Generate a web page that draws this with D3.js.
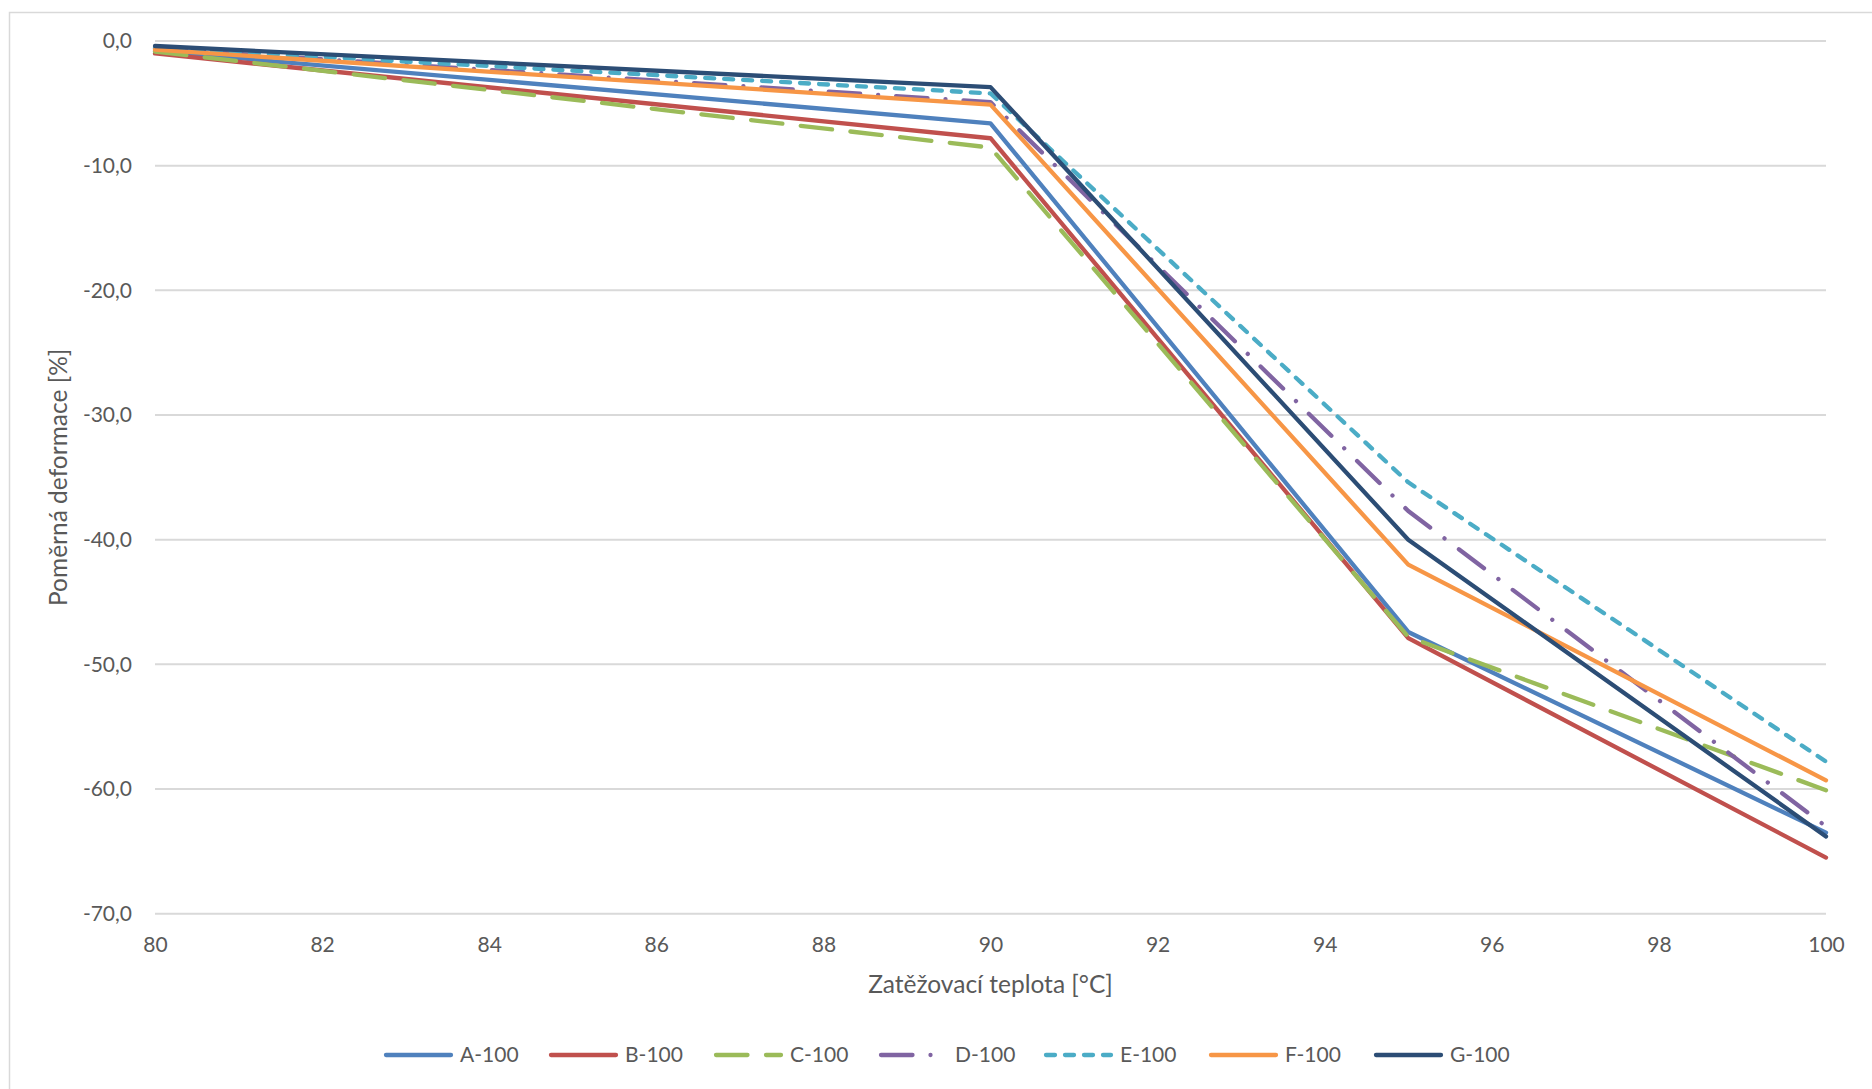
<!DOCTYPE html>
<html>
<head>
<meta charset="utf-8">
<script src="https://cdn.jsdelivr.net/npm/d3@7"></script>
<style>
  html, body { margin: 0; padding: 0; background: #fff; }
  svg { display: block; }
  text { font-family: Lato, "Open Sans", sans-serif; fill: #595959; }
</style>
</head>
<body>
<svg id="chart" width="1872" height="1089"></svg>
<script>
// Loading temperatures [°C]
const temperatures = [80, 90, 95, 100];

// Relative deformation [%] of each specimen at each temperature
const seriesA = [-0.8, -6.6, -47.4, -63.5];
const seriesB = [-1.0, -7.8, -47.9, -65.5];
const seriesC = [-0.85, -8.55, -47.8, -60.1];
const seriesD = [-0.6, -4.9, -37.7, -63.0];
const seriesE = [-0.55, -4.2, -35.4, -57.8];
const seriesF = [-0.7, -5.1, -42.0, -59.3];
const seriesG = [-0.4, -3.7, -40.0, -63.8];

const seriesNames = ["A-100", "B-100", "C-100", "D-100", "E-100", "F-100", "G-100"];
const seriesValues = [seriesA, seriesB, seriesC, seriesD, seriesE, seriesF, seriesG];

const xTicks = [80, 82, 84, 86, 88, 90, 92, 94, 96, 98, 100];
const yTicks = [0, -10, -20, -30, -40, -50, -60, -70];

const xTitle = "Zatěžovací teplota [°C]";
const yTitle = "Poměrná deformace [%]";

// Line styles per series
const lineW = 4.3;
const styles = [
  { color: "#4F81BD", dash: null },               // solid
  { color: "#C0504D", dash: null },               // solid
  { color: "#9BBB59", dash: "31.5,18.5" },        // long dash
  { color: "#8064A2", dash: "31.5,18,0.01,18" },  // long dash-dot
  { color: "#4BACC6", dash: "9,10" },             // short dash
  { color: "#F79646", dash: null },               // solid
  { color: "#2C4D75", dash: null }                // solid
];

const svg = d3.select("#chart");

// chart frame (left and top edges visible)
svg.append("path")
  .attr("d", "M9.5,1089 L9.5,12.5 L1872,12.5")
  .attr("fill", "none")
  .attr("stroke", "#d9d9d9")
  .attr("stroke-width", 1.5);

const x = d3.scaleLinear().domain([80, 100]).range([155, 1826]);
const y = d3.scaleLinear().domain([0, -70]).range([41, 913.7]);

// horizontal gridlines
svg.append("g")
  .selectAll("line")
  .data(yTicks)
  .join("line")
  .attr("x1", x(80)).attr("x2", x(100))
  .attr("y1", d => y(d)).attr("y2", d => y(d))
  .attr("stroke", "#d9d9d9")
  .attr("stroke-width", 2);

const fmt = d => d3.format(".1f")(d).replace(".", ",").replace("−", "-");

// y axis labels
const yAxis = d3.axisLeft(y).tickValues(yTicks).tickSize(0).tickPadding(0).tickFormat(fmt);
const gy = svg.append("g").attr("transform", "translate(132,0)").call(yAxis);
gy.select(".domain").remove();
gy.selectAll("text")
  .attr("font-size", 21)
  .attr("fill", "#595959")
  .style("font-family", "Lato, 'Open Sans', sans-serif");

// x axis labels
const xAxis = d3.axisBottom(x).tickValues(xTicks).tickSize(0).tickPadding(0).tickFormat(d3.format("d"));
const gx = svg.append("g").attr("transform", "translate(0,938)").call(xAxis);
gx.select(".domain").remove();
gx.selectAll("text")
  .attr("dy", "0.35em")
  .attr("y", 7)
  .attr("font-size", 21)
  .attr("fill", "#595959")
  .style("font-family", "Lato, 'Open Sans', sans-serif");

// axis titles
svg.append("text")
  .attr("x", x(90)).attr("y", 984)
  .attr("dy", "0.35em")
  .attr("text-anchor", "middle")
  .attr("font-size", 24.5)
  .text(xTitle);

svg.append("text")
  .attr("transform", `translate(58,${(y(0) + y(-70)) / 2}) rotate(-90)`)
  .attr("dy", "0.35em")
  .attr("text-anchor", "middle")
  .attr("font-size", 24.5)
  .text(yTitle);

// series lines
const line = d3.line()
  .x((d, i) => x(temperatures[i]))
  .y(d => y(d));

svg.append("g")
  .selectAll("path")
  .data(seriesValues)
  .join("path")
  .attr("d", d => line(d))
  .attr("fill", "none")
  .attr("stroke", (d, i) => styles[i].color)
  .attr("stroke-width", lineW)
  .attr("stroke-linecap", "round")
  .attr("stroke-linejoin", "round")
  .attr("stroke-dasharray", (d, i) => styles[i].dash);

// legend
const legendY = 1055;
const legend = svg.append("g")
  .selectAll("g")
  .data(seriesNames)
  .join("g")
  .attr("transform", (d, i) => `translate(${384 + i * 165},${legendY})`);

legend.append("line")
  .attr("x1", 2).attr("x2", 67)
  .attr("y1", 0).attr("y2", 0)
  .attr("stroke", (d, i) => styles[i].color)
  .attr("stroke-width", lineW)
  .attr("stroke-linecap", "round")
  .attr("stroke-dasharray", (d, i) => styles[i].dash);

legend.append("text")
  .attr("x", 76).attr("y", 0)
  .attr("dy", "0.35em")
  .attr("font-size", 21)
  .text(d => d);
</script>
</body>
</html>
